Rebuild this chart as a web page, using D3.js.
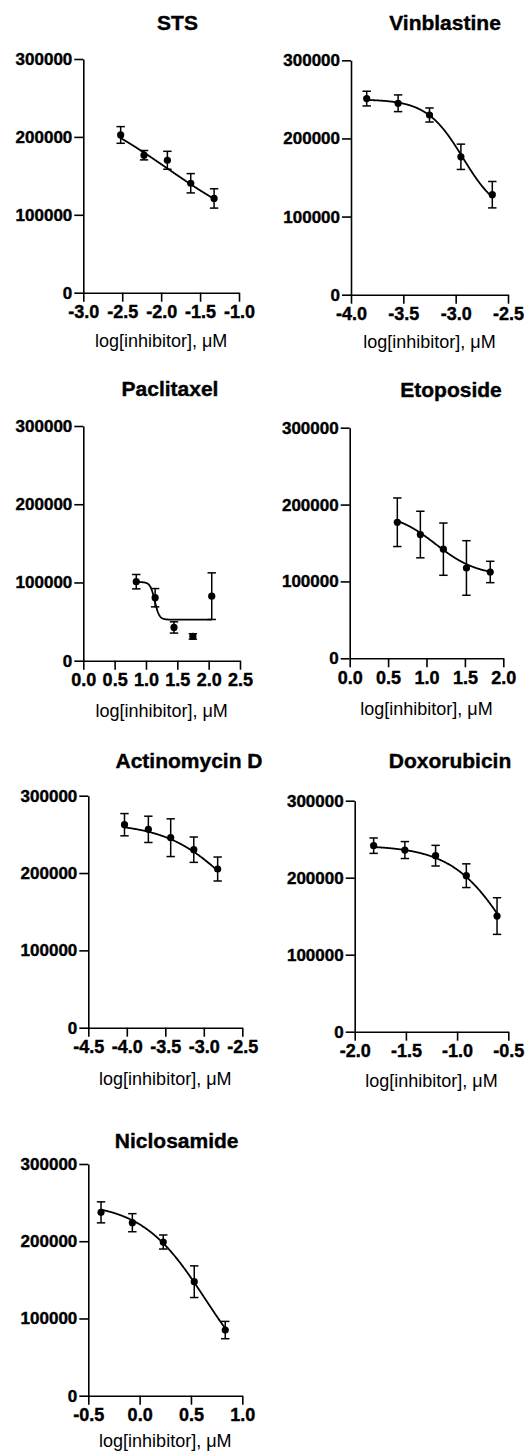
<!DOCTYPE html>
<html>
<head>
<meta charset="utf-8">
<script src="https://cdn.jsdelivr.net/npm/d3@7"></script>
<style>
  body { margin: 0; background: #fff; }
  svg text { font-family: "Liberation Sans", Arial, sans-serif; fill: #000; }
</style>
</head>
<body>
<script>
// one panel per drug, same order everywhere below
var drugs = ["STS", "Vinblastine", "Paclitaxel", "Etoposide", "Actinomycin D", "Doxorubicin", "Niclosamide"]

// log[inhibitor] of each dilution
var logConc = [
  [-2.52, -2.22, -1.92, -1.62, -1.32],
  [-3.85, -3.55, -3.25, -2.95, -2.65],
  [0.845, 1.146, 1.447, 1.748, 2.049],
  [0.62, 0.92, 1.22, 1.52, 1.83],
  [-4.03, -3.72, -3.43, -3.13, -2.82],
  [-1.815, -1.51, -1.21, -0.91, -0.61],
  [-0.376, -0.071, 0.23, 0.532, 0.834]
]

// mean signal and error
var meanSignal = [
  [202500, 176500, 170000, 140500, 121000],
  [251000, 245000, 230000, 176500, 128000],
  [101000, 80500, 42500, 31000, 82500],
  [177000, 161000, 142000, 117500, 112300],
  [262500, 256500, 245700, 230200, 205200],
  [241600, 235900, 228600, 202600, 150200],
  [237400, 224000, 199000, 147600, 85000]
]
var errSignal = [
  [10700, 6000, 11500, 12400, 12400],
  [9400, 10700, 9000, 16200, 16900],
  [9200, 11700, 7200, 3400, 29800],
  [31600, 30300, 34000, 35500, 13900],
  [14400, 17000, 24400, 16400, 15500],
  [10000, 11000, 13400, 15400, 23800],
  [13600, 11700, 9100, 20500, 11200]
]

// fitted 4-parameter dose response curves
var fitTop =     [259000, 250000, 100500, 190000, 265000, 242000, 250000]
var fitBottom =  [60000, 100000, 52500, 107000, 100000, 0, 0]
var fitLogIC50 = [-1.92, -2.93, 1.14, 1.12, -2.6, -0.45, 0.64]
var fitHill =    [0.6, 2.5, 12, 1.6, 1, 1.5, 1.4]

// axes
var xDomains = [[-3, -1], [-4, -2.5], [0, 2.5], [0, 2], [-4.5, -2.5], [-2, -0.5], [-0.5, 1]]
var yTicks = [0, 100000, 200000, 300000]
var xLabel = "log[inhibitor], μM"

// where each panel sits on the page
var layout = [
  {x0: 83.3, x1: 239, yTop: 59, yBot: 292.7, tx: 177.5, ty: 30, ly: 347},
  {x0: 351, x1: 508, yTop: 60.3, yBot: 294.7, tx: 445, ty: 30, ly: 348},
  {x0: 83.3, x1: 240, yTop: 426, yBot: 660.7, tx: 170, ty: 396, ly: 716.7},
  {x0: 349.7, x1: 503.3, yTop: 427.7, yBot: 658.3, tx: 451, ty: 396.7, ly: 715},
  {x0: 88.3, x1: 242.3, yTop: 795.7, yBot: 1027.7, tx: 189, ty: 768, ly: 1085},
  {x0: 354.7, x1: 508.3, yTop: 800.7, yBot: 1031.7, tx: 450, ty: 768, ly: 1087},
  {x0: 88.3, x1: 242.3, yTop: 1164, yBot: 1395.7, tx: 176.7, ty: 1148, ly: 1447}
]

var svg = d3.select("body").append("svg")
  .attr("width", 527)
  .attr("height", 1456)

drugs.forEach(function(name, i) {
  var L = layout[i]
  var g = svg.append("g")

  var x = d3.scaleLinear().domain(xDomains[i]).range([L.x0, L.x1])
  var y = d3.scaleLinear().domain([0, 300000]).range([L.yBot, L.yTop])

  var xTicks = d3.range(xDomains[i][0], xDomains[i][1] + 0.01, 0.5)

  // y axis
  var yAxis = g.append("g")
    .attr("transform", "translate(" + L.x0 + ",0)")
    .call(d3.axisLeft(y).tickValues(yTicks).tickFormat(d3.format("d")).tickSize(9).tickPadding(2).tickSizeOuter(0))
  yAxis.selectAll(".tick text").attr("font-size", 17)
  // x axis
  var xAxis = g.append("g")
    .attr("transform", "translate(0," + L.yBot + ")")
    .call(d3.axisBottom(x).tickValues(xTicks).tickFormat(function(d){ return d.toFixed(1) }).tickSize(9).tickPadding(4).tickSizeOuter(0))
  xAxis.selectAll(".tick text").attr("font-size", 18)

  g.selectAll(".domain, .tick line").attr("stroke", "#000").attr("stroke-width", 1.6)
  g.selectAll(".tick text")
    .attr("font-weight", "bold")
    .attr("fill", "#000")
    .attr("stroke", "#000")
    .attr("stroke-width", 0.4)
    .style("font-family", "'Liberation Sans', Arial, sans-serif")

  // title and axis label
  g.append("text")
    .attr("x", L.tx).attr("y", L.ty)
    .attr("text-anchor", "middle")
    .attr("font-size", 21)
    .attr("font-weight", "bold")
    .attr("stroke", "#000")
    .attr("stroke-width", 0.4)
    .text(name)

  g.append("text")
    .attr("x", (L.x0 + L.x1) / 2).attr("y", L.ly)
    .attr("text-anchor", "middle")
    .attr("font-size", 18)
    .text(xLabel)

  // fitted curve across the tested range
  var lo = logConc[i][0], hi = logConc[i][logConc[i].length - 1]
  var curveX = d3.range(0, 301).map(function(k){ return lo + (hi - lo) * k / 300 })
  var fit = function(v) {
    return fitBottom[i] + (fitTop[i] - fitBottom[i]) / (1 + Math.pow(10, (v - fitLogIC50[i]) * fitHill[i]))
  }
  g.append("path")
    .datum(curveX)
    .attr("fill", "none")
    .attr("stroke", "#000")
    .attr("stroke-width", 1.8)
    .attr("d", d3.line().x(function(d){ return x(d) }).y(function(d){ return y(fit(d)) }))

  var pts = logConc[i].map(function(v, k){ return {x: v, m: meanSignal[i][k], e: errSignal[i][k]} })

  // error bars
  var bars = g.selectAll(".bar").data(pts).enter().append("g").attr("class", "bar")
  bars.append("line")
    .attr("x1", function(d){ return x(d.x) }).attr("x2", function(d){ return x(d.x) })
    .attr("y1", function(d){ return y(d.m + d.e) }).attr("y2", function(d){ return y(d.m - d.e) })
  bars.append("line")
    .attr("x1", function(d){ return x(d.x) - 4.2 }).attr("x2", function(d){ return x(d.x) + 4.2 })
    .attr("y1", function(d){ return y(d.m + d.e) }).attr("y2", function(d){ return y(d.m + d.e) })
  bars.append("line")
    .attr("x1", function(d){ return x(d.x) - 4.2 }).attr("x2", function(d){ return x(d.x) + 4.2 })
    .attr("y1", function(d){ return y(d.m - d.e) }).attr("y2", function(d){ return y(d.m - d.e) })
  bars.selectAll("line").attr("stroke", "#000").attr("stroke-width", 1.5)

  // points
  g.selectAll("circle").data(pts).enter().append("circle")
    .attr("cx", function(d){ return x(d.x) })
    .attr("cy", function(d){ return y(d.m) })
    .attr("r", 3.6)
    .attr("fill", "#000")
})
</script>
</body>
</html>
